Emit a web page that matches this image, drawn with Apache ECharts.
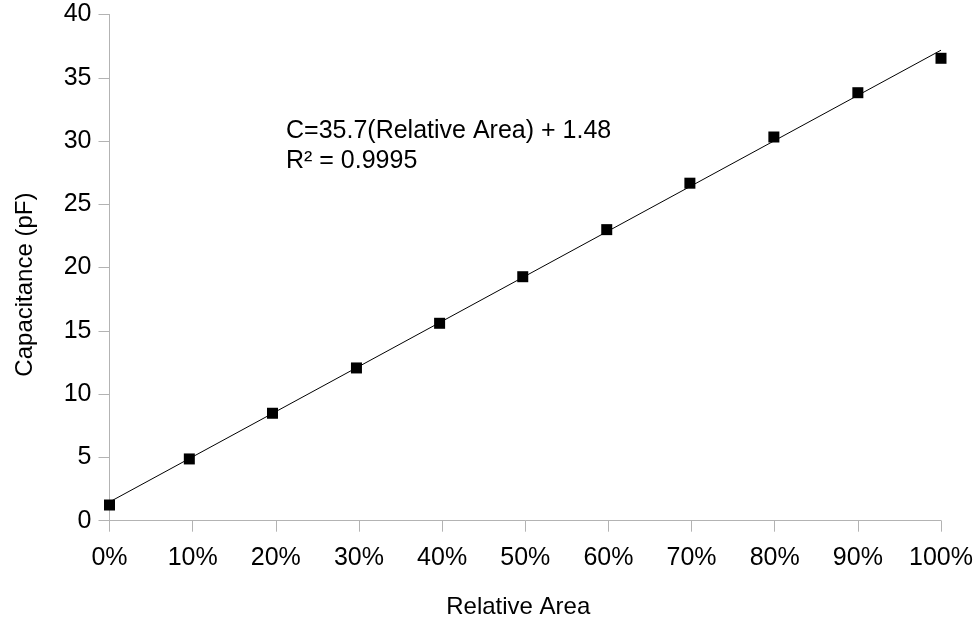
<!DOCTYPE html>
<html>
<head>
<meta charset="utf-8">
<script src="https://cdn.jsdelivr.net/npm/echarts@6/dist/echarts.min.js"></script>
<style>
html,body{margin:0;padding:0;background:#fff;}
#chart{width:976px;height:620px;}
</style>
</head>
<body>
<div id="chart"></div>
<script>
// Measured data (relative area as fraction, capacitance in pF)
const relativeArea = [0, 0.096, 0.196, 0.297, 0.397, 0.497, 0.598, 0.698, 0.799, 0.9, 1.0];
const capacitance = [1.24, 4.88, 8.49, 12.07, 15.6, 19.28, 23.0, 26.67, 30.32, 33.82, 36.54];
// Linear trend line endpoints (C = 35.7*A + 1.48)
const trendX = [0, 1];
const trendY = [1.48, 37.18];
const equationLines = ['C=35.7(Relative Area) + 1.48', 'R² = 0.9995'];

const font = 'Liberation Sans, Arial, sans-serif';
const chart = echarts.init(document.getElementById('chart'));
chart.setOption({
  animation: false,
  backgroundColor: '#ffffff',
  grid: {left: 109.5, right: 35, top: 14.5, bottom: 99.3, containLabel: false, outerBoundsMode: 'none'},
  xAxis: {
    type: 'value', min: 0, max: 1, interval: 0.1,
    name: 'Relative Area', nameLocation: 'middle', nameGap: 75,
    nameTextStyle: {fontFamily: font, fontSize: 24, color: '#000', padding: [0, 14, 0, 0]},
    axisLine: {show: true, lineStyle: {color: '#b3b3b3', width: 1}},
    axisTick: {show: true, length: 11, lineStyle: {color: '#b3b3b3'}},
    axisLabel: {fontFamily: font, fontSize: 25, color: '#000', margin: 25,
      formatter: v => Math.round(v * 100) + '%'},
    splitLine: {show: false}
  },
  yAxis: {
    type: 'value', min: 0, max: 40, interval: 5,
    name: 'Capacitance (pF)', nameLocation: 'middle', nameGap: 72,
    nameTextStyle: {fontFamily: font, fontSize: 24, color: '#000', padding: [0, 34, 0, 0]},
    axisLine: {show: true, lineStyle: {color: '#b3b3b3', width: 1}},
    axisTick: {show: true, length: 11, lineStyle: {color: '#b3b3b3'}},
    axisLabel: {fontFamily: font, fontSize: 25, color: '#000', margin: 18},
    splitLine: {show: false}
  },
  graphic: [{
    type: 'text', left: 286, top: 116,
    style: {text: equationLines.join('\n'), font: '25px ' + font, fill: '#000', lineHeight: 30}
  }],
  series: [{
    type: 'line',
    data: trendX.map((x, i) => [x, trendY[i]]),
    showSymbol: false, symbol: 'none',
    lineStyle: {color: '#000', width: 1},
    z: 2
  }, {
    type: 'scatter',
    data: relativeArea.map((x, i) => [x, capacitance[i]]),
    symbol: 'rect', symbolSize: 11,
    itemStyle: {color: '#000', opacity: 1},
    z: 3
  }]
});
</script>
</body>
</html>
